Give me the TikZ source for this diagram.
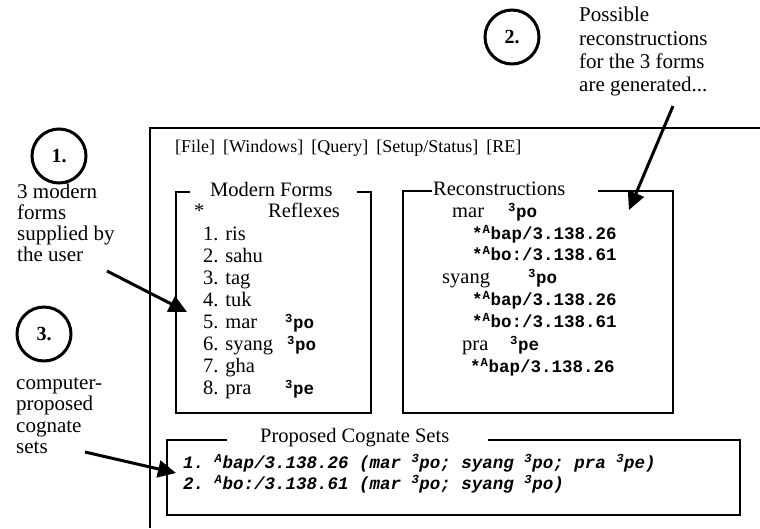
\documentclass[tikz,border=0pt]{standalone}
\usepackage{fontspec}
\setmainfont{Liberation Serif}
\setmonofont{Liberation Mono}
\usetikzlibrary{arrows.meta}
\tikzset{
  txt/.style={inner sep=0pt, anchor=mid west, font=\fontsize{20.5}{22}\selectfont},
  ann/.style={inner sep=0pt, anchor=mid west, font=\fontsize{21}{23}\selectfont},
  menutxt/.style={inner sep=0pt, anchor=mid west, font=\fontsize{18}{20}\selectfont},
  mono/.style={inner sep=0pt, anchor=mid west, font=\fontsize{17.5}{20}\selectfont\ttfamily\bfseries},
  cog/.style={inner sep=0pt, anchor=mid west, font=\fontsize{17.5}{20}\selectfont\ttfamily\bfseries\itshape},
  frame/.style={line width=2.2pt},
  screen/.style={line width=2pt},
  badge/.style={circle, draw, line width=3pt, minimum size=54pt, inner sep=0pt, font=\fontsize{20}{20}\selectfont\bfseries},
  pointer/.style={line width=3pt, -{Triangle[length=18pt,width=17pt]}},
}
\newcommand{\sups}[1]{\textsuperscript{#1}}
\begin{document}
\begin{tikzpicture}[x=1pt,y=-1pt]
\useasboundingbox (0,0) rectangle (760,528);

% screen frame
\draw[screen] (150,528) -- (150,128) -- (760,128);
\node[menutxt] (menu) at (175,150) {[File]\hspace{8pt}[Windows]\hspace{8pt}[Query]\hspace{8pt}[Setup/Status]\hspace{8pt}[RE]};

% annotation 1
\node[badge] (c1) at (59,156) {1.};
\node[ann] (t1a) at (17,196) {3 modern};
\node[ann] (t1b) at (17,217) {forms};
\node[ann] (t1c) at (17,238) {supplied by};
\node[ann] (t1d) at (17,259) {the user};

% annotation 2
\node[badge] (c2) at (512,37) {2.};
\node[ann] (t2a) at (579,19) {Possible};
\node[ann] (t2b) at (579,43) {reconstructions};
\node[ann] (t2c) at (579,66) {for the 3 forms};
\node[ann] (t2d) at (579,89) {are generated...};

% annotation 3
\node[badge] (c3) at (44,334) {3.};
\node[ann] (t3a) at (16,387) {computer-};
\node[ann] (t3b) at (16,408) {proposed};
\node[ann] (t3c) at (16,430) {cognate};
\node[ann] (t3d) at (16,451) {sets};

% Modern Forms box
\draw[frame] (190,192) -- (176,192) -- (176,413) -- (371,413) -- (371,192) -- (357,192);
\node[txt] (mft) at (210,194) {Modern Forms};
\node[txt] (star) at (194,215) {*};
\node[txt] (refl) at (268,215) {Reflexes};
\node[txt] (m1) at (203,238) {1. ris};
\node[txt] (m2) at (203,260) {2. sahu};
\node[txt] (m3) at (203,282) {3. tag};
\node[txt] (m4) at (203,304) {4. tuk};
\node[txt] (m5) at (203,326) {5. mar};
\node[txt] (m6) at (203,348) {6. syang};
\node[txt] (m7) at (203,370) {7. gha};
\node[txt] (m8) at (203,392) {8. pra};
\node[mono] (r5) at (285,326) {\sups{3}po};
\node[mono] (r6) at (287,348) {\sups{3}po};
\node[mono] (r8) at (285,392) {\sups{3}pe};

% Reconstructions box
\draw[frame] (432,191) -- (403,191) -- (403,413) -- (673,413) -- (673,191) -- (598,191);
\node[txt] (rct) at (433,193) {Reconstructions};
\node[txt] (rmar) at (452,215) {mar};
\node[mono] (rmarp) at (508,215) {\sups{3}po};
\node[mono] (rm1) at (472,237) {*\sups{A}bap/3.138.26};
\node[mono] (rm2) at (472,258) {*\sups{A}bo:/3.138.61};
\node[txt] (rsy) at (442,281) {syang};
\node[mono] (rsyp) at (528,281) {\sups{3}po};
\node[mono] (rs1) at (472,303) {*\sups{A}bap/3.138.26};
\node[mono] (rs2) at (472,325) {*\sups{A}bo:/3.138.61};
\node[txt] (rpr) at (462,348) {pra};
\node[mono] (rprp) at (510,348) {\sups{3}pe};
\node[mono] (rp1) at (470,370) {*\sups{A}bap/3.138.26};

% Proposed Cognate Sets box
\draw[frame] (227,440) -- (167,440) -- (167,515) -- (740,515) -- (740,440) -- (488,440);
\node[txt] (pct) at (260,440) {Proposed Cognate Sets};
\node[cog] (cs1) at (183,466) {1. \sups{A}bap/3.138.26 (mar \sups{3}po; syang \sups{3}po; pra \sups{3}pe)};
\node[cog] (cs2) at (183,487) {2. \sups{A}bo:/3.138.61 (mar \sups{3}po; syang \sups{3}po)};

% pointers
\coordinate (p1s) at (107,271);
\coordinate (p1e) at (187,312);
\coordinate (p2s) at (673,106);
\coordinate (p2e) at (629,210);
\coordinate (p3s) at (85,452);
\coordinate (p3e) at (176,473);
\draw[pointer] (p1s) -- (p1e);
\draw[pointer] (p2s) -- (p2e);
\draw[pointer] (p3s) -- (p3e);
\end{tikzpicture}
\end{document}
